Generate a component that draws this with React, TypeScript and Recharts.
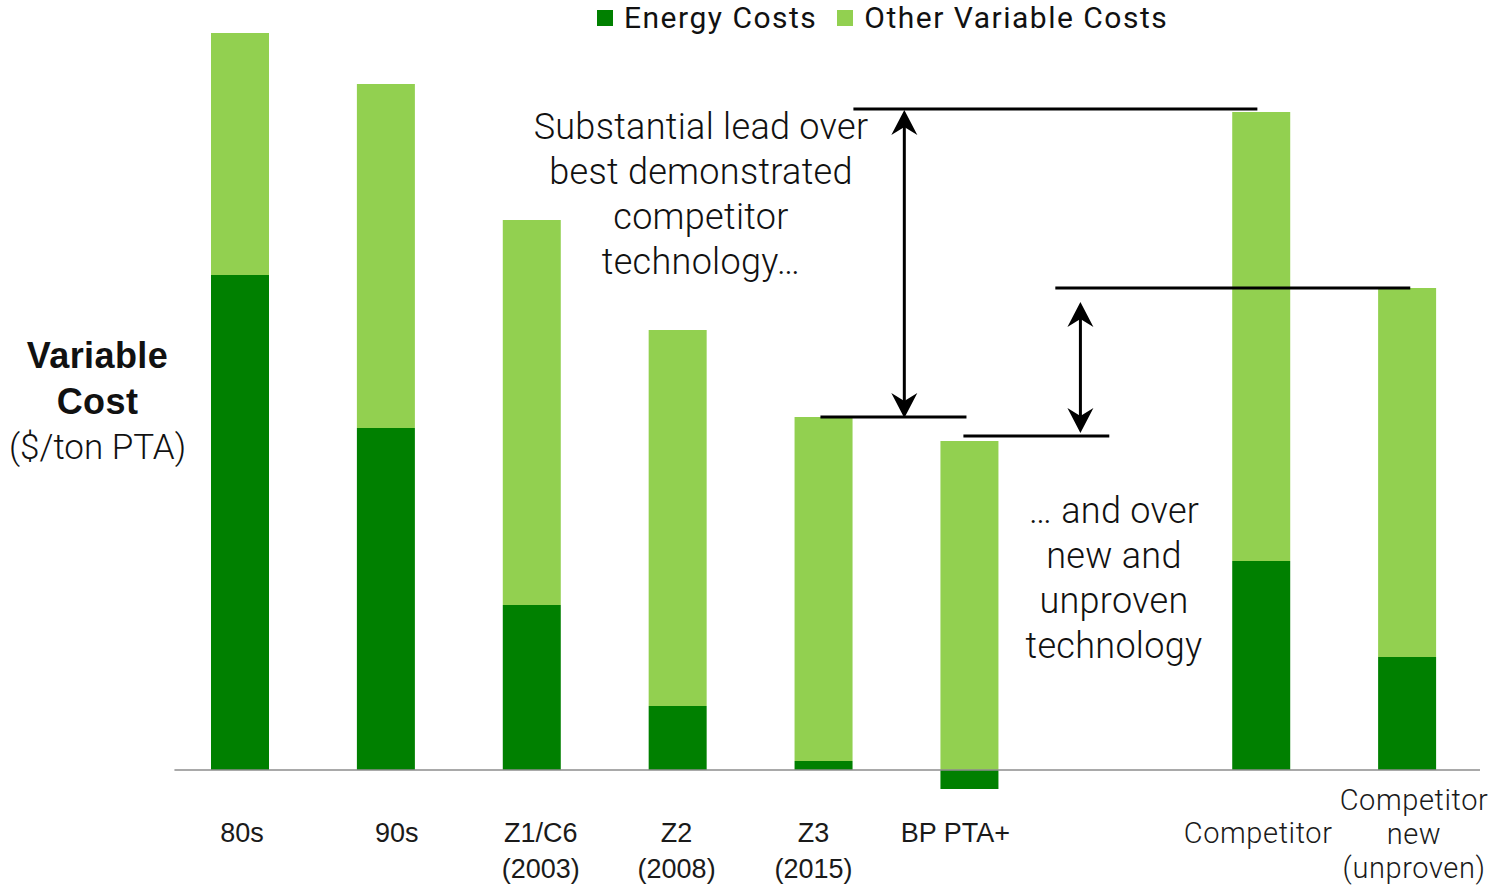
import { Bar, BarChart, Legend, ReferenceLine, XAxis, YAxis } from "recharts";

// category slots on the x axis (slot 6 is left empty on purpose)
const positions = [0, 1, 2, 3, 4, 5, 7, 8];
const tickLabels = [
  "80s",
  "90s",
  "Z1/C6\n(2003)",
  "Z2\n(2008)",
  "Z3\n(2015)",
  "BP PTA+",
  "Competitor",
  "Competitor\nnew\n(unproven)",
];
const energyCosts = [495, 342, 165, 64, 9, -19, 209, 113];
const otherCosts = [242, 344, 385, 376, 344, 329, 449, 369];

// annotation brackets: [xStart, xEnd, level]
const bracketLines = [
  [4.205, 6.974, 661],
  [3.979, 4.98, 353],
  [5.589, 8.022, 482],
  [4.959, 5.959, 334],
];
// double arrows: [x, top, bottom]
const arrows = [
  [4.554, 660, 352],
  [5.761, 468, 337],
];

// labels in the original sit a little off the bar centres
const tickShift = [2, 11, 9, -1, -10, -14, -3, 7];

const DARK = "#008000";
const LIGHT = "#92D050";
const SANS = "Roboto, 'Noto Sans', sans-serif";
const HELV = "'Liberation Sans', Arial, sans-serif";

const data = positions.map((pos, i) => ({
  pos,
  energy: energyCosts[i],
  other: otherCosts[i],
}));

function CategoryTick(props: any) {
  const { x, y, payload } = props;
  const idx = positions.indexOf(payload.value);
  const lines = tickLabels[idx].split("\n");
  const plain = idx < 6;
  const first = lines.length === 3 ? y - 8 : y + 25;
  return (
    <g>
      {lines.map((line, i) => (
        <text
          key={i}
          x={x + tickShift[idx]}
          y={first + i * (plain ? 36 : 34)}
          textAnchor="middle"
          dominantBaseline="central"
          fontFamily={plain ? HELV : SANS}
          fontSize={plain ? 27 : 29}
          fontWeight={plain ? 400 : 300}
          letterSpacing={plain ? 0 : 0.6}
          fill="#1a1a1a"
        >
          {line}
        </text>
      ))}
    </g>
  );
}

function DoubleArrow(props: any) {
  const { x1, y1, y2 } = props;
  const top = Math.min(y1, y2);
  const bottom = Math.max(y1, y2);
  const w = 13;
  const len = 25;
  const notch = 17;
  return (
    <g>
      <line x1={x1} y1={top + notch} x2={x1} y2={bottom - notch} stroke="#000" strokeWidth={3} />
      <polygon
        points={`${x1},${top} ${x1 - w},${top + len} ${x1},${top + notch} ${x1 + w},${top + len}`}
        fill="#000"
      />
      <polygon
        points={`${x1},${bottom} ${x1 - w},${bottom - len} ${x1},${bottom - notch} ${x1 + w},${bottom - len}`}
        fill="#000"
      />
    </g>
  );
}

function LegendContent() {
  const items = [
    { label: "Energy Costs", color: DARK },
    { label: "Other Variable Costs", color: LIGHT },
  ];
  return (
    <div style={{ display: "flex", alignItems: "center", fontFamily: SANS, fontWeight: 400 }}>
      {items.map((it) => (
        <div key={it.label} style={{ display: "flex", alignItems: "center", marginRight: 20 }}>
          <span style={{ width: 16, height: 16, background: it.color, marginRight: 11 }} />
          <span style={{ fontSize: 30, color: "#111", letterSpacing: 1.5 }}>{it.label}</span>
        </div>
      ))}
    </div>
  );
}

const textBlock: React.CSSProperties = {
  position: "absolute",
  textAlign: "center",
  fontFamily: SANS,
  fontWeight: 300,
  fontSize: 36,
  lineHeight: "45px",
  letterSpacing: 0.3,
  color: "#111",
  whiteSpace: "nowrap",
};

export default function App() {
  return (
    <div style={{ position: "absolute", left: 0, top: 0, width: 1489, height: 885, background: "#fff" }}>
      <BarChart
        width={1489}
        height={885}
        data={data}
        stackOffset="sign"
        margin={{ top: 30, right: 9, bottom: 0, left: 167 }}
      >
        <XAxis
          dataKey="pos"
          type="number"
          domain={[-0.5, 8.5]}
          ticks={positions}
          axisLine={false}
          tickLine={false}
          height={85}
          tick={<CategoryTick />}
          interval={0}
        />
        <YAxis hide domain={[-30, 740]} allowDataOverflow />
        <Legend
          layout="horizontal"
          verticalAlign="middle"
          align="center"
          wrapperStyle={{ top: 0, left: 597, width: 700 }}
          content={<LegendContent />}
        />
        <Bar dataKey="energy" stackId="a" fill={DARK} barSize={58} isAnimationActive={false} name="Energy Costs" />
        <Bar dataKey="other" stackId="a" fill={LIGHT} barSize={58} isAnimationActive={false} name="Other Variable Costs" />
        <ReferenceLine
          segment={[{ x: -0.449, y: 0 }, { x: 8.5, y: 0 }]}
          stroke="#8c8c8c"
          strokeWidth={1.5}
        />
        {bracketLines.map(([a, b, v], i) => (
          <ReferenceLine
            key={`b${i}`}
            segment={[{ x: a, y: v }, { x: b, y: v }]}
            stroke="#000"
            strokeWidth={3}
          />
        ))}
        {arrows.map(([x, t, b], i) => (
          <ReferenceLine
            key={`a${i}`}
            segment={[{ x, y: t }, { x, y: b }]}
            shape={(p: any) => <DoubleArrow {...p} />}
          />
        ))}
      </BarChart>

      <div style={{ ...textBlock, left: 501, top: 105, width: 400 }}>
        Substantial lead over
        <br />
        best demonstrated
        <br />
        competitor
        <br />
        technology…
      </div>
      <div style={{ ...textBlock, left: 964, top: 489, width: 300 }}>
        … and over
        <br />
        new and
        <br />
        unproven
        <br />
        technology
      </div>
      <div style={{ ...textBlock, left: 0, top: 333, width: 195, fontSize: 35, letterSpacing: 0 }}>
        <span style={{ fontWeight: 700, fontFamily: HELV, fontSize: 36, letterSpacing: 0.4 }}>
          Variable
          <br />
          Cost
        </span>
        <br />
        ($/ton PTA)
      </div>
    </div>
  );
}
